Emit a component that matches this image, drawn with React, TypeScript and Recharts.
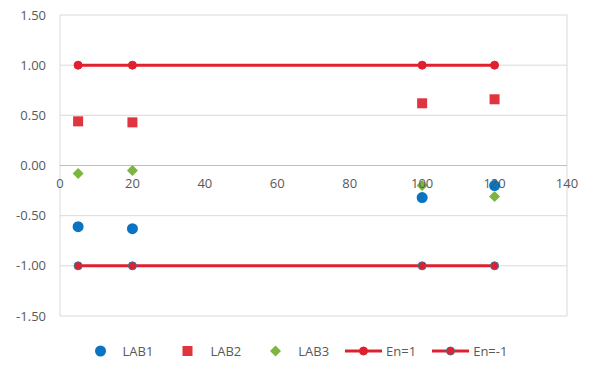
import React from "react"
import {
  CartesianGrid,
  Legend,
  ReferenceDot,
  ReferenceLine,
  Scatter,
  ScatterChart,
  XAxis,
  YAxis,
} from "recharts"

// concentrations tested by each lab
const xValues = [5, 20, 100, 120]

// En scores per lab
const lab1 = [-0.61, -0.63, -0.32, -0.2]
const lab2 = [0.44, 0.43, 0.62, 0.66]
const lab3 = [-0.08, -0.05, -0.2, -0.31]

// acceptance limits
const enUpper = [1, 1, 1, 1]
const enLower = [-1, -1, -1, -1]

const xTicks = [0, 20, 40, 60, 80, 100, 120, 140]
const yTicks = [-1.5, -1, -0.5, 0, 0.5, 1, 1.5]

const FONT = "'Open Sans', sans-serif"
const FONT_SIZE = 13
const TEXT = "#595959"
const GRID = "#d9d9d9"

const BLUE = "#0a73c2"
const RED = "#e0353f"
const LINE_RED = "#e0202e"
const GREEN = "#7db541"
const DOT_EDGE = "#3f6f96"

type Kind = "circle" | "square" | "diamond" | "line"

const toPoints = (ys: number[]) => xValues.map((x, i) => ({ x, y: ys[i] }))

function markerShape(kind: Kind, fill: string, stroke?: string) {
  return (props: any) => {
    const { cx, cy } = props
    if (cx == null || cy == null) return <g />
    if (kind === "square") {
      return <rect x={cx - 5} y={cy - 5} width={10} height={10} fill={fill} />
    }
    if (kind === "diamond") {
      return (
        <path
          d={`M${cx},${cy - 5.5}L${cx + 5.5},${cy}L${cx},${cy + 5.5}L${cx - 5.5},${cy}Z`}
          fill={fill}
        />
      )
    }
    if (kind === "line") {
      return (
        <circle
          cx={cx}
          cy={cy}
          r={4}
          fill={fill}
          stroke={stroke ?? fill}
          strokeWidth={1}
        />
      )
    }
    return <circle cx={cx} cy={cy} r={5.5} fill={fill} />
  }
}

const series: {
  name: string
  kind: Kind
  color: string
  edge?: string
  values: number[]
}[] = [
  { name: "LAB1", kind: "circle", color: BLUE, values: lab1 },
  { name: "LAB2", kind: "square", color: RED, values: lab2 },
  { name: "LAB3", kind: "diamond", color: GREEN, values: lab3 },
  { name: "En=1", kind: "line", color: LINE_RED, values: enUpper },
  { name: "En=-1", kind: "line", color: LINE_RED, edge: DOT_EDGE, values: enLower },
]

function LegendIcon({ kind, color, edge }: { kind: Kind; color: string; edge?: string }) {
  return (
    <svg width={37} height={14} style={{ display: "block" }}>
      {kind === "line" && (
        <line x1={0} y1={7} x2={37} y2={7} stroke={color} strokeWidth={3} />
      )}
      {markerShape(kind, color, edge)({ cx: 18.5, cy: 7 })}
    </svg>
  )
}

function ChartLegend() {
  return (
    <div
      style={{
        height: 44,
        display: "flex",
        alignItems: "flex-end",
        justifyContent: "center",
        paddingLeft: 12,
        fontFamily: FONT,
        fontSize: FONT_SIZE,
        color: TEXT,
      }}
    >
      {series.map((s) => (
        <div
          key={s.name}
          style={{ display: "flex", alignItems: "center", margin: "0 8px", height: 18 }}
        >
          <LegendIcon kind={s.kind} color={s.color} edge={s.edge} />
          <span style={{ marginLeft: 4 }}>{s.name}</span>
        </div>
      ))}
    </div>
  )
}

export default function App() {
  return (
    <div
      style={{
        position: "absolute",
        left: 0,
        top: 0,
        width: 590,
        height: 370,
        background: "#fff",
      }}
    >
      <ScatterChart
        width={590}
        height={370}
        margin={{ top: 15, right: 23, bottom: 10, left: 10 }}
      >
        <CartesianGrid stroke={GRID} strokeWidth={1} />
        <XAxis
          type="number"
          dataKey="x"
          domain={[0, 140]}
          ticks={xTicks}
          height={0}
          tick={false}
          axisLine={false}
          tickLine={false}
        />
        <YAxis
          type="number"
          dataKey="y"
          domain={[-1.5, 1.5]}
          ticks={yTicks}
          width={50}
          axisLine={false}
          tickLine={false}
          tickSize={0}
          tickMargin={14}
          tickFormatter={(v: number) => v.toFixed(2)}
          tick={{ fill: TEXT, fontSize: FONT_SIZE, fontFamily: FONT }}
        />
        <ReferenceLine y={0} stroke="#bfbfbf" strokeWidth={1} />
        {xTicks.map((t) => (
          <ReferenceDot
            key={t}
            x={t}
            y={0}
            r={0.01}
            fill="none"
            stroke="none"
            label={{
              value: t,
              position: "bottom",
              offset: 13,
              fill: TEXT,
              fontSize: FONT_SIZE,
              fontFamily: FONT,
            }}
          />
        ))}
        {series
          .filter((s) => s.kind === "line")
          .map((s) => (
            <Scatter
              key={s.name}
              name={s.name}
              data={toPoints(s.values)}
              fill={s.color}
              line={{ stroke: s.color, strokeWidth: 3 }}
              shape={markerShape(s.kind, s.color, s.edge)}
              isAnimationActive={false}
            />
          ))}
        {series
          .filter((s) => s.kind !== "line")
          .map((s) => (
            <Scatter
              key={s.name}
              name={s.name}
              data={toPoints(s.values)}
              fill={s.color}
              shape={markerShape(s.kind, s.color)}
              isAnimationActive={false}
            />
          ))}
        <Legend verticalAlign="bottom" content={() => <ChartLegend />} />
      </ScatterChart>
    </div>
  )
}
